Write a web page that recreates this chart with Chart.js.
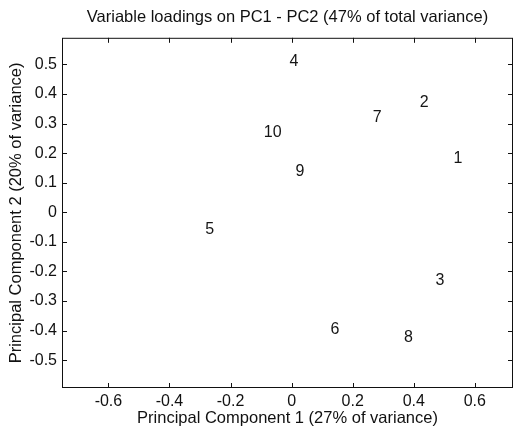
<!DOCTYPE html>
<html>
<head>
<meta charset="utf-8">
<script src="https://cdn.jsdelivr.net/npm/chart.js@4"></script>
<style>
  html, body { margin: 0; padding: 0; background: #fff; }
  #wrap { width: 516px; height: 429px; }
</style>
</head>
<body>
<div id="wrap"><canvas id="c" width="516" height="429"></canvas></div>
<script>
// variable number and its loadings on PC1 / PC2
const varLabels = ["1", "2", "3", "4", "5", "6", "7", "8", "9", "10"];
const pc1 = [0.545, 0.434, 0.486, 0.008, -0.268, 0.142, 0.28, 0.383, 0.027, -0.062];
const pc2 = [0.18, 0.37, -0.232, 0.51, -0.06, -0.396, 0.32, -0.424, 0.137, 0.27];
const xTicks = [-0.6, -0.4, -0.2, 0, 0.2, 0.4, 0.6];
const yTicks = [-0.5, -0.4, -0.3, -0.2, -0.1, 0, 0.1, 0.2, 0.3, 0.4, 0.5];

const fam = "'Liberation Sans', Arial, sans-serif";
const fmt = v => (Math.abs(v) < 1e-9 ? "0" : String(Math.round(v * 10) / 10));

// draws the numbers at each point, plus the box with inward ticks
const matlabLook = {
  id: "matlabLook",
  afterDatasetsDraw(chart) {
    const ctx = chart.ctx;
    const meta = chart.getDatasetMeta(0);
    ctx.save();
    ctx.fillStyle = "#151515";
    ctx.font = "16px " + fam;
    ctx.textAlign = "center";
    ctx.textBaseline = "middle";
    meta.data.forEach((pt, i) => ctx.fillText(varLabels[i], pt.x, pt.y));
    ctx.restore();
  },
  afterDraw(chart) {
    const { ctx, chartArea: a, scales } = chart;
    const len = 5;
    ctx.save();
    ctx.strokeStyle = "#111";
    ctx.lineWidth = 1;
    ctx.strokeRect(a.left + 0.5, a.top + 0.5, a.right - a.left - 1, a.bottom - a.top - 1);
    ctx.beginPath();
    xTicks.forEach(v => {
      const x = Math.round(scales.x.getPixelForValue(v)) + 0.5;
      ctx.moveTo(x, a.bottom); ctx.lineTo(x, a.bottom - len);
      ctx.moveTo(x, a.top); ctx.lineTo(x, a.top + len);
    });
    yTicks.forEach(v => {
      const y = Math.round(scales.y.getPixelForValue(v)) + 0.5;
      ctx.moveTo(a.left, y); ctx.lineTo(a.left + len, y);
      ctx.moveTo(a.right, y); ctx.lineTo(a.right - len, y);
    });
    ctx.stroke();
    ctx.restore();
  }
};

new Chart(document.getElementById("c"), {
  type: "scatter",
  data: {
    datasets: [{
      data: pc1.map((x, i) => ({ x: x, y: pc2[i] })),
      pointRadius: 0,
      pointHoverRadius: 0
    }]
  },
  options: {
    responsive: false,
    animation: false,
    layout: { padding: { left: 0, right: 3, top: 0, bottom: 0 } },
    plugins: {
      legend: { display: false },
      tooltip: { enabled: false },
      title: {
        display: true,
        fullSize: false,
        text: "Variable loadings on PC1 - PC2 (47% of total variance)",
        color: "#111",
        font: { family: fam, size: 16.5, weight: "normal" },
        padding: { top: 8, bottom: 10 }
      }
    },
    scales: {
      x: {
        type: "linear",
        min: -0.752,
        max: 0.725,
        grid: { display: false, drawTicks: false },
        border: { display: false },
        afterBuildTicks: s => { s.ticks = xTicks.map(v => ({ value: v })); },
        afterFit: s => { s.height = 41; },
        ticks: {
          color: "#111",
          padding: 4,
          font: { family: fam, size: 16 },
          callback: v => fmt(v)
        },
        title: {
          display: true,
          text: "Principal Component 1 (27% of variance)",
          color: "#111",
          font: { family: fam, size: 16.5 },
          padding: { top: 0, bottom: 1 }
        }
      },
      y: {
        type: "linear",
        min: -0.594,
        max: 0.59,
        grid: { display: false, drawTicks: false },
        border: { display: false },
        afterBuildTicks: s => { s.ticks = yTicks.map(v => ({ value: v })); },
        afterFit: s => { s.width = 62; },
        ticks: {
          color: "#111",
          padding: 5,
          font: { family: fam, size: 16 },
          callback: v => fmt(v)
        },
        title: {
          display: true,
          text: "Principal Component 2 (20% of variance)",
          color: "#111",
          font: { family: fam, size: 16.5 },
          padding: { top: 7, bottom: 0 }
        }
      }
    }
  },
  plugins: [matlabLook]
});
</script>
</body>
</html>
